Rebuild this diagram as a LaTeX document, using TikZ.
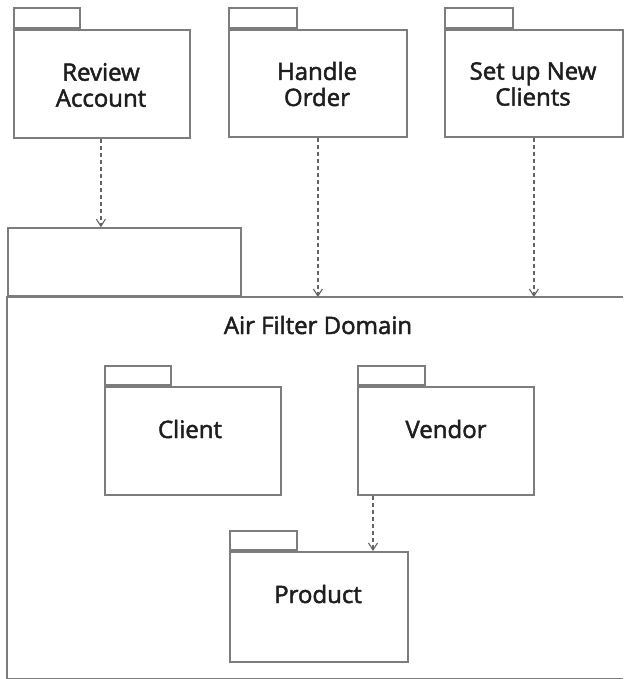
\documentclass[tikz,border=0pt]{standalone}
\usepackage{fontspec}
\setmainfont{Open Sans}[FakeBold=2]
\usetikzlibrary{arrows.meta}
\definecolor{pkgline}{RGB}{125,125,125}
\definecolor{depline}{RGB}{100,100,100}
\definecolor{txt}{RGB}{30,30,30}
\begin{document}
\begin{tikzpicture}[x=1pt,y=-1pt,
  pkgbody/.style={draw=pkgline, line width=1.8pt, fill=white, inner sep=0pt, anchor=north west},
  pkgtab/.style={draw=pkgline, line width=1.8pt, inner sep=0pt, anchor=south west, minimum width=66pt, minimum height=20pt},
  lbl/.style={text=txt, font=\fontsize{24}{26}\selectfont, align=center, inner sep=0pt},
  dep/.style={draw=depline, line width=1.3pt, dash pattern=on 4pt off 3pt, -{Straight Barb[length=7pt,width=9pt,line width=1.1pt]}}
]
\useasboundingbox (0,0) rectangle (623,679);
\fill[white] (0,0) rectangle (623,679);

% top packages
\node[pkgbody, minimum width=176pt, minimum height=108pt] (ra) at (13,29) {};
\node[pkgtab] (ratab) at (ra.north west) {};
\node[lbl] (ralbl) at (101,85) {Review\\Account};

\node[pkgbody, minimum width=178pt, minimum height=107pt] (ho) at (228,29) {};
\node[pkgtab, minimum width=68pt] (hotab) at (ho.north west) {};
\node[lbl] (holbl) at (317,84) {Handle\\Order};

\node[pkgbody, minimum width=178pt, minimum height=107pt] (su) at (444,29) {};
\node[pkgtab, minimum width=68pt] (sutab) at (su.north west) {};
\node[lbl] (sulbl) at (533,84) {Set up New\\Clients};

% domain package
\node[inner sep=0pt, anchor=north west, minimum width=616pt, minimum height=381pt] (dom) at (7,297) {};
\node[pkgtab, minimum width=233pt, minimum height=68pt] (domtab) at (dom.north west) {};
\draw[pkgline, line width=1.8pt] (dom.north east) -- (dom.north west) -- (dom.south west) -- (dom.south east);
\node[lbl] (domlbl) at (318,325) {Air Filter Domain};

% inner packages
\node[pkgbody, minimum width=176pt, minimum height=108pt] (cl) at (104,386) {};
\node[pkgtab, minimum height=19pt] (cltab) at (cl.north west) {};
\node[lbl] (cllbl) at (190,429) {Client};

\node[pkgbody, minimum width=176pt, minimum height=108pt] (vn) at (357,386) {};
\node[pkgtab, minimum width=67pt, minimum height=19pt] (vntab) at (vn.north west) {};
\node[lbl] (vnlbl) at (446,429) {Vendor};

\node[pkgbody, minimum width=178pt, minimum height=110pt] (pr) at (229,551) {};
\node[pkgtab, minimum width=67pt, minimum height=19pt] (prtab) at (pr.north west) {};
\node[lbl] (prlbl) at (318,594) {Product};

% dependencies
\draw[dep] ([xshift=-1pt]ra.south) -- ([xshift=-1pt]ra.south |- domtab.north);
\draw[dep] (ho.south) -- (ho.south |- dom.north);
\draw[dep] (su.south) -- (su.south |- dom.north);
\draw[dep] ([xshift=16pt]vn.south west) -- ([xshift=16pt]vn.south west |- pr.north);
\end{tikzpicture}
\end{document}
